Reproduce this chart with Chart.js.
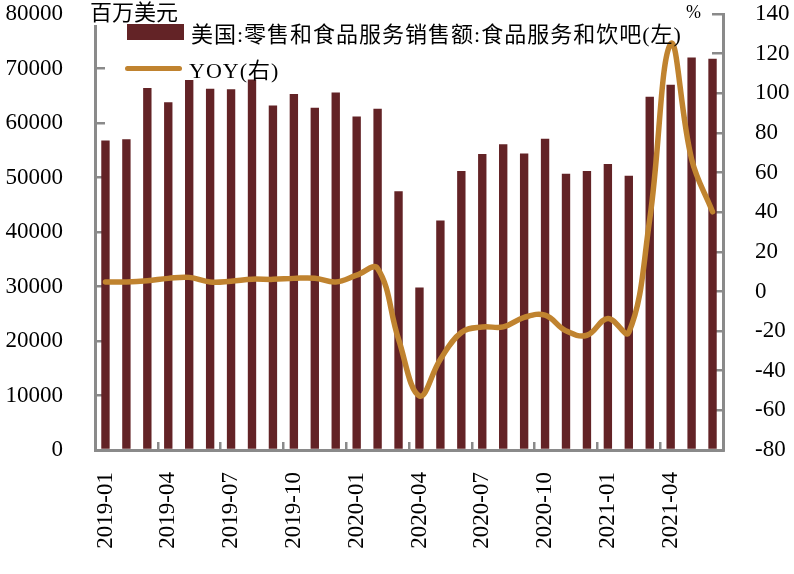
<!DOCTYPE html>
<html>
<head>
<meta charset="utf-8">
<script src="https://cdn.jsdelivr.net/npm/chart.js@4/dist/chart.umd.min.js"></script>
<style>
  body { margin: 0; background: #fff; }
  .wrap { position: relative; width: 794px; height: 574px; }
  .note { position: absolute; color: #000; white-space: nowrap; }
  .unit { left: 90px; top: -5px; font: 22px "Noto Sans CJK SC", sans-serif; background: #fff; line-height: 30px; }
  .pct { left: 686px; top: 2px; font: 18px "Liberation Serif", serif; }
  .legend { position: absolute; left: 125px; top: 14px; font: 22px "Liberation Serif", "Noto Sans CJK SC", serif; color: #000; letter-spacing: 1px; }
  .legend .row { display: flex; align-items: center; height: 36px; white-space: nowrap; }
  .legend .box { width: 57px; height: 16px; background: #632326; margin: 0 7px 0 2px; }
  .legend .line { width: 57px; height: 5px; border-radius: 3px; background: #C0832F; margin: 0 7px 0 0; }
</style>
</head>
<body>
<div class="wrap">
  <canvas id="chart" width="794" height="574"></canvas>
  <div class="note unit">百万美元</div>
  <div class="note pct">%</div>
  <div class="legend">
    <div class="row"><span class="box"></span><span id="lab0"></span></div>
    <div class="row"><span class="line"></span><span id="lab1"></span></div>
  </div>
</div>
<script>
const months = [
  '2019-01','2019-02','2019-03','2019-04','2019-05','2019-06','2019-07','2019-08','2019-09','2019-10','2019-11','2019-12',
  '2020-01','2020-02','2020-03','2020-04','2020-05','2020-06','2020-07','2020-08','2020-09','2020-10','2020-11','2020-12',
  '2021-01','2021-02','2021-03','2021-04','2021-05','2021-06'
]
// 百万美元
const sales = [
  56800, 57000, 66400, 63800, 67900, 66300, 66200, 68000, 63200, 65300, 62800, 65600,
  61200, 62600, 47500, 29800, 42100, 51200, 54300, 56100, 54400, 57100, 50700, 51200,
  52500, 50300, 64800, 67000, 72000, 71800
]
// %
const yoy = [
  4.8, 4.8, 5.4, 6.6, 7.1, 4.8, 5.2, 6.2, 6.1, 6.6, 6.7, 4.8,
  8.2, 11.6, -24.1, -52.7, -34.2, -20.7, -17.9, -17.9, -13.1, -12.0, -19.9, -22.1,
  -13.6, -20.7, 36.5, 124.9, 66.8, 40.2
]
const seriesNames = ['美国:零售和食品服务销售额:食品服务和饮吧(左)', 'YOY(右)']

document.getElementById('lab0').textContent = seriesNames[0]
document.getElementById('lab1').textContent = seriesNames[1]

const axisGray = '#8a8a8a'
const tickFont = { family: 'Liberation Serif', size: 23 }

// ticks.padding also pads the top of the axis, drop it so the plot starts at layout.padding.top
const fixWidth = w => scale => {
  scale.width = w
  scale.paddingTop = 0
  scale.paddingBottom = 0
}

new Chart(document.getElementById('chart'), {
  type: 'bar',
  data: {
    labels: months,
    datasets: [
      {
        type: 'line',
        label: seriesNames[1],
        data: yoy,
        yAxisID: 'y1',
        borderColor: '#C0832F',
        borderWidth: 5.5,
        borderCapStyle: 'round',
        pointRadius: 0,
        tension: 0.4,
        order: 0
      },
      {
        label: seriesNames[0],
        data: sales,
        yAxisID: 'y',
        backgroundColor: '#632326',
        categoryPercentage: 1,
        barPercentage: 0.4,
        order: 1
      }
    ]
  },
  options: {
    responsive: false,
    animation: false,
    layout: { padding: { top: 14, left: 0, right: 0, bottom: 0 } },
    plugins: { legend: { display: false }, tooltip: { enabled: false } },
    scales: {
      x: {
        offset: true,
        grid: {
          drawOnChartArea: false,
          tickLength: -8,
          lineWidth: 2.5,
          color: ctx => (ctx.index > 0 && ctx.index % 3 === 0) ? axisGray : 'rgba(0,0,0,0)'
        },
        border: { color: axisGray, width: 3 },
        ticks: {
          autoSkip: false,
          minRotation: 90,
          maxRotation: 90,
          padding: 30,
          color: '#000',
          font: tickFont,
          callback: (v, i) => i % 3 === 0 ? months[i] : ''
        },
        afterFit: scale => { scale.height = 124 }
      },
      y: {
        position: 'left',
        min: 0,
        max: 80000,
        grid: { drawOnChartArea: false, tickLength: -10, lineWidth: 2.5, color: axisGray },
        border: { color: axisGray, width: 3 },
        ticks: { stepSize: 10000, padding: 42, color: '#000', font: tickFont, callback: v => String(v) },
        afterFit: fixWidth(95)
      },
      y1: {
        position: 'right',
        min: -80,
        max: 140,
        grid: { drawOnChartArea: false, tickLength: -11, lineWidth: 2.5, color: axisGray },
        border: { color: axisGray, width: 3 },
        ticks: { stepSize: 20, padding: 43, color: '#000', font: tickFont, callback: v => String(v) },
        afterFit: fixWidth(71)
      }
    }
  }
})
</script>
</body>
</html>
